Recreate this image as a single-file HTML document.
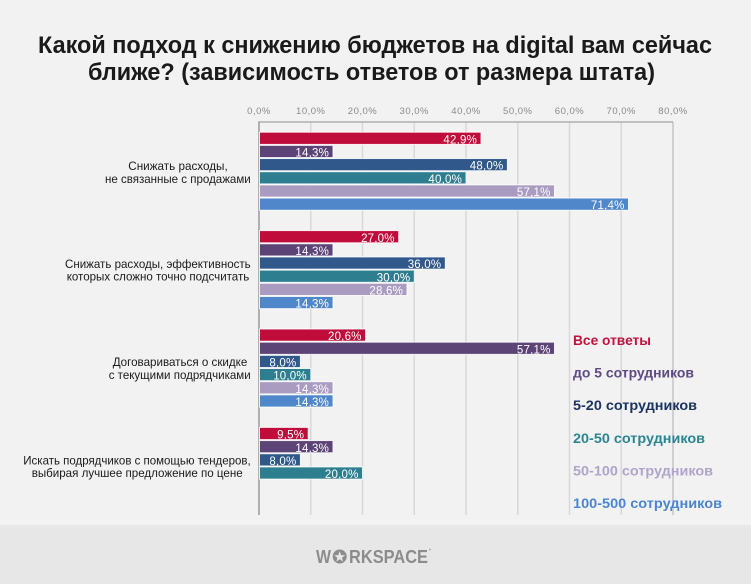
<!DOCTYPE html>
<html><head><meta charset="utf-8"><style>
html,body{margin:0;padding:0;background:#f2f2f2;}
svg{display:block;}
</style></head><body>
<svg width="751" height="584" viewBox="0 0 751 584" xmlns="http://www.w3.org/2000/svg">
<rect x="0" y="0" width="751" height="584" fill="#f2f2f2"/>
<!-- title -->
<g font-family="'Liberation Sans Narrow','Liberation Sans',sans-serif" font-weight="bold" font-size="24" fill="#1a1a1a">
<text x="38" y="53" textLength="674" lengthAdjust="spacingAndGlyphs">Какой подход к снижению бюджетов на digital вам сейчас</text>
<text x="88" y="80" textLength="567" lengthAdjust="spacingAndGlyphs">ближе? (зависимость ответов от размера штата)</text>
</g>
<!-- tick labels -->
<g font-family="'Liberation Sans',sans-serif" font-size="9.5" fill="#8a8a8a" text-anchor="middle" letter-spacing="0.5">
<text x="259" y="114">0,0%</text>
<text x="310.75" y="114">10,0%</text>
<text x="362.5" y="114">20,0%</text>
<text x="414.25" y="114">30,0%</text>
<text x="466" y="114">40,0%</text>
<text x="517.75" y="114">50,0%</text>
<text x="569.5" y="114">60,0%</text>
<text x="621.25" y="114">70,0%</text>
<text x="673" y="114">80,0%</text>
</g>
<!-- grid -->
<g stroke="#d8d8d8" stroke-width="1.5">
<line x1="310.75" y1="122" x2="310.75" y2="515"/>
<line x1="362.5" y1="122" x2="362.5" y2="515"/>
<line x1="414.25" y1="122" x2="414.25" y2="515"/>
<line x1="466" y1="122" x2="466" y2="515"/>
<line x1="517.75" y1="122" x2="517.75" y2="515"/>
<line x1="569.5" y1="122" x2="569.5" y2="515"/>
<line x1="621.25" y1="122" x2="621.25" y2="515"/>
</g>
<line x1="673" y1="122" x2="673" y2="515" stroke="#c4c4c4" stroke-width="1.5"/>
<line x1="259" y1="122" x2="673" y2="122" stroke="#b0b0b0" stroke-width="1.5"/>
<line x1="259" y1="121.5" x2="259" y2="515" stroke="#9a9a9a" stroke-width="1.5"/>
<!-- bars -->
<g stroke="#ffffff" stroke-width="1" stroke-opacity="0.85">
<rect x="259.5" y="132.2" width="221.5" height="12.2" fill="#bf0c3a"/>
<rect x="259.5" y="145.37" width="73.5" height="12.2" fill="#5c4476"/>
<rect x="259.5" y="158.54" width="247.9" height="12.2" fill="#30588a"/>
<rect x="259.5" y="171.71" width="206.5" height="12.2" fill="#2d7f8f"/>
<rect x="259.5" y="184.88" width="295" height="12.2" fill="#aa9bc1"/>
<rect x="259.5" y="198.05" width="369" height="12.2" fill="#4f87ca"/>

<rect x="259.5" y="230.6" width="139.2" height="12.2" fill="#bf0c3a"/>
<rect x="259.5" y="243.77" width="73.5" height="12.2" fill="#5c4476"/>
<rect x="259.5" y="256.94" width="185.8" height="12.2" fill="#30588a"/>
<rect x="259.5" y="270.11" width="154.8" height="12.2" fill="#2d7f8f"/>
<rect x="259.5" y="283.28" width="147.5" height="12.2" fill="#aa9bc1"/>
<rect x="259.5" y="296.45" width="73.5" height="12.2" fill="#4f87ca"/>

<rect x="259.5" y="329" width="106.1" height="12.2" fill="#bf0c3a"/>
<rect x="259.5" y="342.17" width="295" height="12.2" fill="#5c4476"/>
<rect x="259.5" y="355.34" width="40.9" height="12.2" fill="#30588a"/>
<rect x="259.5" y="368.51" width="51.3" height="12.2" fill="#2d7f8f"/>
<rect x="259.5" y="381.68" width="73.5" height="12.2" fill="#aa9bc1"/>
<rect x="259.5" y="394.85" width="73.5" height="12.2" fill="#4f87ca"/>

<rect x="259.5" y="427.4" width="48.7" height="12.2" fill="#bf0c3a"/>
<rect x="259.5" y="440.57" width="73.5" height="12.2" fill="#5c4476"/>
<rect x="259.5" y="453.74" width="40.9" height="12.2" fill="#30588a"/>
<rect x="259.5" y="466.91" width="103" height="12.2" fill="#2d7f8f"/>
</g>
<!-- bar labels -->
<g font-family="'Liberation Sans',sans-serif" font-size="11.5" fill="#ffffff" text-anchor="end" letter-spacing="0.2">
<text x="477" y="143.4">42,9%</text>
<text x="329" y="156.6">14,3%</text>
<text x="503.4" y="169.7">48,0%</text>
<text x="462" y="182.9">40,0%</text>
<text x="550.5" y="196.1">57,1%</text>
<text x="624.5" y="209.2">71,4%</text>

<text x="394.7" y="241.8">27,0%</text>
<text x="329" y="255">14,3%</text>
<text x="441.3" y="268.1">36,0%</text>
<text x="410.3" y="281.3">30,0%</text>
<text x="403" y="294.5">28,6%</text>
<text x="329" y="307.6">14,3%</text>

<text x="361.6" y="340.2">20,6%</text>
<text x="550.5" y="353.4">57,1%</text>
<text x="296.4" y="366.5">8,0%</text>
<text x="306.8" y="379.7">10,0%</text>
<text x="329" y="392.9">14,3%</text>
<text x="329" y="406">14,3%</text>

<text x="304.2" y="438.6">9,5%</text>
<text x="329" y="451.8">14,3%</text>
<text x="296.4" y="464.9">8,0%</text>
<text x="358.5" y="478.1">20,0%</text>
</g>
<!-- category labels -->
<g font-family="'Liberation Sans',sans-serif" font-size="12" fill="#1a1a1a" lengthAdjust="spacingAndGlyphs">
<text x="128.3" y="170" textLength="99.4" lengthAdjust="spacingAndGlyphs">Снижать расходы,</text>
<text x="105" y="183" textLength="145.7" lengthAdjust="spacingAndGlyphs">не связанные с продажами</text>
<text x="65" y="268" textLength="185.7" lengthAdjust="spacingAndGlyphs">Снижать расходы, эффективность</text>
<text x="66.7" y="280.5" textLength="182.6" lengthAdjust="spacingAndGlyphs">которых сложно точно подсчитать</text>
<text x="112.7" y="366" textLength="134.6" lengthAdjust="spacingAndGlyphs">Договариваться о скидке</text>
<text x="108.7" y="379" textLength="142" lengthAdjust="spacingAndGlyphs">с текущими подрядчиками</text>
<text x="23.3" y="464.5" textLength="227.4" lengthAdjust="spacingAndGlyphs">Искать подрядчиков с помощью тендеров,</text>
<text x="31.7" y="477" textLength="211" lengthAdjust="spacingAndGlyphs">выбирая лучшее предложение по цене</text>
</g>
<!-- legend -->
<g font-family="'Liberation Sans',sans-serif" font-size="14" font-weight="bold">
<text x="573" y="345" fill="#c4103c" textLength="78" lengthAdjust="spacingAndGlyphs">Все ответы</text>
<text x="573" y="377.6" fill="#5e4a84" textLength="121" lengthAdjust="spacingAndGlyphs">до 5 сотрудников</text>
<text x="573" y="410.2" fill="#1c3460" textLength="124" lengthAdjust="spacingAndGlyphs">5-20 сотрудников</text>
<text x="573" y="442.8" fill="#2b8592" textLength="132" lengthAdjust="spacingAndGlyphs">20-50 сотрудников</text>
<text x="573" y="475.4" fill="#b0a4cc" textLength="140" lengthAdjust="spacingAndGlyphs">50-100 сотрудников</text>
<text x="573" y="508" fill="#4a86d0" textLength="149" lengthAdjust="spacingAndGlyphs">100-500 сотрудников</text>
</g>
<!-- footer -->
<rect x="0" y="525" width="751" height="59" fill="#e7e7e7"/>
<g font-family="'Liberation Sans',sans-serif" font-size="18" font-weight="bold" fill="#8c8c8c">
<text x="316" y="563" textLength="15" lengthAdjust="spacingAndGlyphs">W</text>
<text x="349" y="563" textLength="79" lengthAdjust="spacingAndGlyphs">RKSPACE</text>
</g>
<circle cx="339.7" cy="556.5" r="7" fill="#8c8c8c"/>
<polygon points="339.7,551.2 341.1,555.1 345.2,555.2 342,557.7 343.1,561.6 339.7,559.3 336.3,561.6 337.4,557.7 334.2,555.2 338.3,555.1" fill="#e7e7e7"/>
<circle cx="430" cy="549.5" r="1" fill="#aaaaaa"/>
</svg>
</body></html>
